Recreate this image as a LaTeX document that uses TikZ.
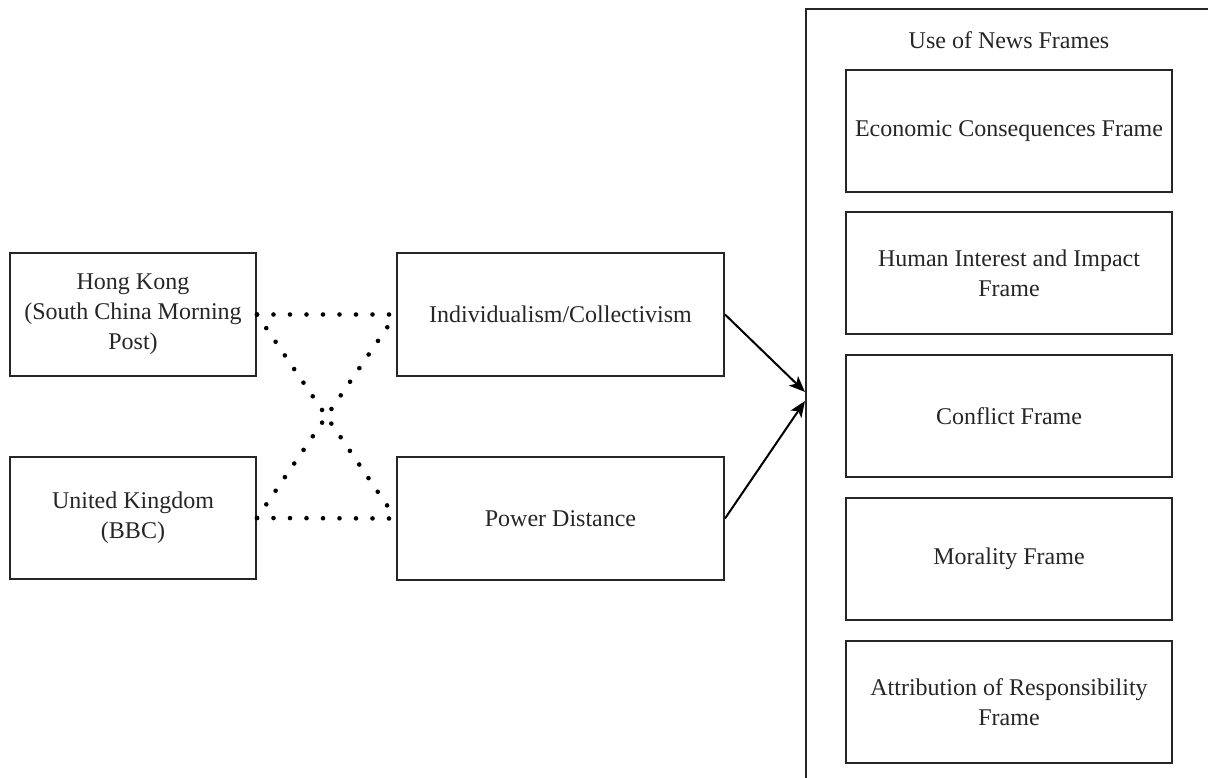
\documentclass[tikz,border=0pt]{standalone}
\usepackage{fontspec}
\setmainfont{Liberation Serif}
\usetikzlibrary{arrows.meta}
\begin{document}
\begin{tikzpicture}[x=1pt,y=-1pt,
  box/.style={draw=black!85, line width=2pt, rectangle, inner sep=0pt, align=center,
    font=\fontsize{24}{30}\selectfont, text=black!85},
  dots/.style={draw=black, line width=4.6pt, line cap=round, dash pattern=on 0pt off 16.5pt},
  arr/.style={draw=black, line width=2pt, -{Stealth[length=16pt,width=13pt,inset=4pt]}}]
\clip (0,0) rectangle (1208,778);
\fill[white] (0,0) rectangle (1208,778);
% outer container (cropped at right and bottom)
\node[box, minimum width=420pt, minimum height=800pt, anchor=north west] (outer) at (805,8) {};
\node[font=\fontsize{24}{30}\selectfont, text=black!85] (title) at (1009,40) {Use of News Frames};
% left boxes
\node[box, minimum width=246pt, minimum height=123pt] (hk) at (133,314.5) {Hong Kong\\(South China Morning\\Post)};
\node[box, minimum width=246pt, minimum height=122pt] (uk) at (133,518) {United Kingdom\\(BBC)};
% middle boxes
\node[box, minimum width=327pt, minimum height=123pt] (ind) at (560.5,314.5) {Individualism/Collectivism};
\node[box, minimum width=327pt, minimum height=123pt] (pd) at (560.5,518.5) {Power Distance};
% frame boxes
\node[box, minimum width=326pt, minimum height=122pt] (f1) at (1009,131) {Economic Consequences Frame};
\node[box, minimum width=326pt, minimum height=122pt] (f2) at (1009,273) {Human Interest and Impact\\Frame};
\node[box, minimum width=326pt, minimum height=122pt] (f3) at (1009,416) {Conflict Frame};
\node[box, minimum width=326pt, minimum height=122pt] (f4) at (1009,559) {Morality Frame};
\node[box, minimum width=326pt, minimum height=122pt] (f5) at (1009,702) {Attribution of Responsibility\\Frame};
% dotted links
\draw[dots] (hk.east) -- (ind.west);
\draw[dots] (hk.east) -- (pd.west);
\draw[dots] (uk.east) -- (ind.west);
\draw[dots] (uk.east) -- (pd.west);
% arrows
\coordinate (t1) at (805,392);
\coordinate (t2) at (805,401);
\draw[arr] (ind.east) -- (t1);
\draw[arr] (pd.east) -- (t2);
\end{tikzpicture}
\end{document}
